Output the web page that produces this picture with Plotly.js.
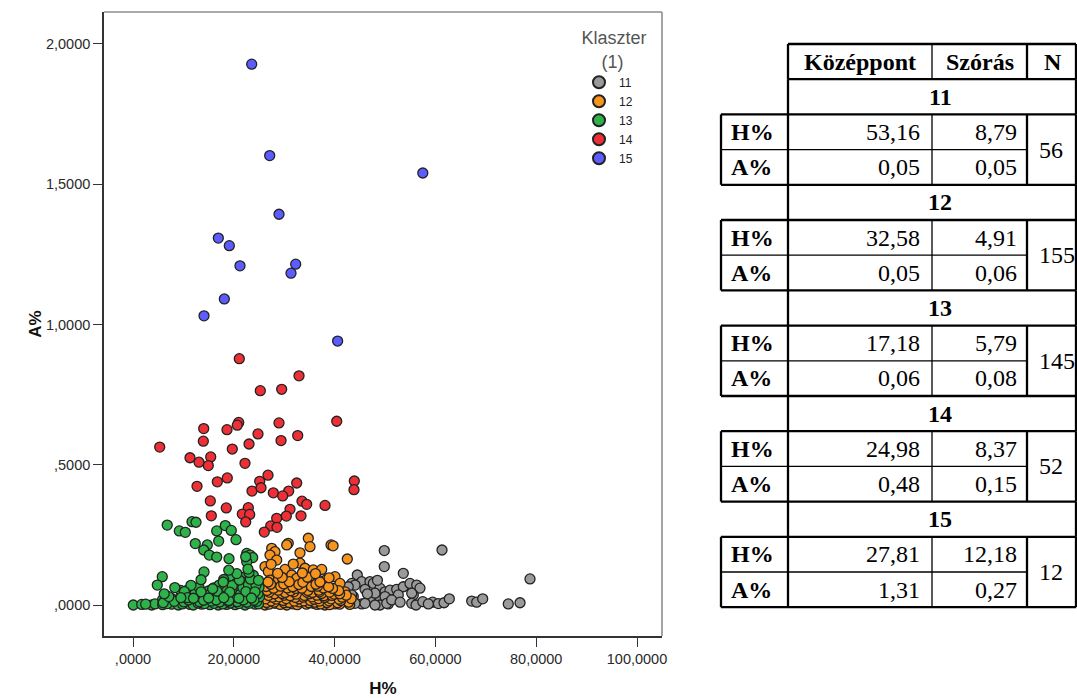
<!DOCTYPE html>
<html>
<head>
<meta charset="utf-8">
<script src="https://cdn.plot.ly/plotly-3.0.1.min.js"></script>
<style>
  html, body { margin: 0; padding: 0; background: #ffffff; }
  #chart { width: 1077px; height: 698px; }
</style>
</head>
<body>
<div id="chart"></div>
<script>
// ---- Observations per cluster: [H%, A%] ----
const pts11 = [
  [49.86,0.194],[61.31,0.196],[49.86,0.137],[53.63,0.113],[44.50,0.107],[78.77,0.093],
  [43.39,0.077],[45.38,0.083],[47.02,0.083],[47.68,0.077],[46.03,0.056],[49.01,0.060],
  [50.00,0.047],[50.99,0.053],[52.32,0.056],[53.63,0.065],[54.96,0.077],[56.29,0.071],
  [56.94,0.060],[55.62,0.036],[43.71,0.030],[47.02,0.018],[49.01,0.018],[50.99,0.018],
  [52.64,0.036],[43.06,0.006],[45.38,0.004],[49.01,0.000],[50.65,0.004],[55.30,0.006],
  [56.15,0.000],[59.46,0.010],[60.58,0.005],[61.71,0.008],[62.76,0.022],[67.20,0.014],
  [68.19,0.010],[69.38,0.022],[74.46,0.004],[76.79,0.008],[44.05,0.071],[42.72,0.065],
  [43.39,0.036],[48.02,0.042],[50.00,0.030],[44.05,0.006],[46.03,0.006],[48.02,0.000],
  [50.34,0.006],[51.33,0.018],[55.30,0.042],[57.50,0.012],[58.60,0.004],[46.50,0.040],
  [53.00,0.010],[48.50,0.088]
];

const pts12 = [
  [34.78,0.238],[35.12,0.208],[30.81,0.220],[30.50,0.214],[39.29,0.214],[39.70,0.211],
  [27.52,0.202],[28.17,0.190],[27.18,0.178],[33.13,0.186],[42.52,0.164],[28.51,0.160],
  [33.13,0.149],[34.13,0.131],[26.19,0.137],[26.85,0.119],[30.16,0.127],[35.77,0.125],
  [37.44,0.127],[31.49,0.107],[32.48,0.095],[40.08,0.101],[27.18,0.089],[28.83,0.089],
  [30.81,0.077],[36.77,0.089],[38.43,0.092],[34.13,0.071],[35.77,0.071],[38.10,0.071],
  [40.08,0.060],[41.07,0.077],[26.19,0.047],[28.51,0.056],[30.81,0.044],[33.13,0.053],
  [36.11,0.042],[38.43,0.051],[40.42,0.036],[42.06,0.047],[26.85,0.024],[29.50,0.020],
  [31.49,0.030],[34.78,0.024],[37.44,0.024],[39.74,0.018],[41.73,0.018],[26.19,0.000],
  [28.17,0.006],[30.50,0.000],[33.47,0.012],[35.77,0.006],[38.10,0.000],[40.08,0.004],
  [42.06,0.012],
  [27.0,0.003],[29.2,0.002],[31.8,0.004],[32.6,0.001],[34.4,0.003],[36.5,0.002],[37.2,0.004],
  [39.0,0.001],[41.0,0.003],[43.0,0.002],
  [26.5,0.009],[28.0,0.010],[30.0,0.008],[31.0,0.009],[33.0,0.011],[34.9,0.008],[36.0,0.010],
  [38.5,0.009],[40.6,0.008],[42.8,0.010],
  [27.4,0.015],[29.8,0.016],[32.0,0.014],[33.9,0.015],[35.2,0.016],[37.0,0.014],[38.9,0.015],
  [41.2,0.016],
  [26.3,0.022],[28.4,0.021],[30.4,0.023],[32.9,0.022],[35.9,0.021],[36.8,0.023],[39.3,0.022],
  [40.9,0.021],[43.3,0.023],
  [27.7,0.028],[29.0,0.029],[32.2,0.027],[33.8,0.028],[35.5,0.029],[38.0,0.027],[41.5,0.028],
  [26.9,0.034],[30.0,0.035],[31.2,0.033],[34.0,0.034],[36.5,0.035],[37.9,0.033],[39.5,0.034],
  [42.3,0.035],
  [28.1,0.040],[29.6,0.041],[32.4,0.039],[35.0,0.040],[37.4,0.041],[39.9,0.039],[41.0,0.040],
  [27.0,0.046],[30.2,0.045],[31.9,0.047],[34.5,0.046],[35.6,0.045],[37.0,0.047],[39.0,0.046],
  [26.6,0.052],[28.8,0.053],[31.3,0.051],[34.7,0.052],[36.9,0.053],[40.8,0.051],
  [27.9,0.060],[30.6,0.061],[32.3,0.059],[33.5,0.060],[37.8,0.061],[39.6,0.059],
  [26.4,0.066],[29.3,0.067],[31.7,0.065],[35.4,0.066],[36.6,0.067],[38.8,0.065],
  [27.3,0.074],[29.9,0.075],[32.9,0.073],[36.3,0.074],
  [26.8,0.082],[31.0,0.083],[33.7,0.081],[37.1,0.082],
  [29.6,0.098],[34.6,0.099],[38.9,0.097],
  [28.7,0.113],[33.6,0.114],[36.2,0.112],
  [27.4,0.145],[31.8,0.146]
];

const pts13 = [
  [6.79,0.285],[9.19,0.264],[10.38,0.259],[11.71,0.297],[12.50,0.295],[16.61,0.264],
  [18.31,0.283],[19.50,0.266],[17.00,0.228],[20.44,0.233],[12.36,0.219],[14.74,0.214],
  [14.03,0.196],[15.14,0.178],[16.61,0.171],[19.05,0.165],[22.56,0.184],[23.21,0.178],
  [23.75,0.169],[22.56,0.154],[22.36,0.172],[14.09,0.118],[5.81,0.101],[4.82,0.071],
  [19.44,0.103],[22.02,0.099],[23.87,0.106],
  [0.06,0.000],[1.73,0.002],[3.71,0.000],[4.37,0.004],[5.89,0.001],[7.68,0.003],
  [8.99,0.000],[11.31,0.002],[11.96,0.000],[13.63,0.003],[15.28,0.001],[16.92,0.000],
  [18.59,0.002],[20.24,0.001],[22.22,0.000],[24.21,0.003],
  [5.89,0.020],[7.68,0.023],[8.99,0.019],[10.65,0.022],[12.64,0.021],[14.63,0.024],
  [15.94,0.019],[17.59,0.022],[19.58,0.020],[21.57,0.023],[23.21,0.021],
  [9.46,0.052],[10.97,0.055],[14.96,0.050],[16.92,0.054],[18.91,0.053],[20.89,0.056],
  [22.88,0.051],[24.54,0.054],
  [20.57,0.078],[22.22,0.081],[24.21,0.076],
  [2.5,0.003],[6.8,0.005],[9.8,0.004],[12.9,0.007],[14.2,0.005],[16.1,0.006],[17.8,0.004],
  [19.3,0.007],[21.0,0.005],[23.0,0.006],[24.9,0.004],
  [6.0,0.008],[8.2,0.013],[10.1,0.011],[13.2,0.012],[15.6,0.014],[17.2,0.011],[18.9,0.013],
  [20.7,0.012],[22.6,0.010],[24.6,0.013],
  [7.1,0.030],[11.8,0.031],[13.9,0.029],[16.4,0.032],[18.2,0.030],[20.1,0.028],[22.0,0.031],
  [23.9,0.030],[25.1,0.029],
  [6.2,0.040],[12.3,0.041],[15.3,0.039],[17.7,0.042],[19.9,0.040],[21.3,0.038],[23.4,0.041],
  [24.8,0.040],
  [8.3,0.062],[13.1,0.063],[16.0,0.061],[18.4,0.064],[21.8,0.062],[23.6,0.060],[25.0,0.063],
  [11.5,0.070],[17.1,0.071],[19.7,0.069],[22.9,0.072],[24.4,0.070],
  [13.5,0.090],[18.0,0.091],[21.1,0.089],[23.3,0.092],[24.9,0.088],
  [20.6,0.112],[23.0,0.116],[19.0,0.124],[22.8,0.128],
  [11.0,0.018],[14.0,0.017],[16.5,0.018],[19.0,0.016],[21.9,0.018],[24.0,0.017],
  [10.2,0.048],[13.5,0.047],[16.7,0.049],[19.2,0.046],[22.4,0.048],[24.2,0.047],
  [10.8,0.026],[9.5,0.026],[12.0,0.024],[15.0,0.025],[18.0,0.026],[21.0,0.024],[23.5,0.025],
  [17.9,0.082],[15.8,0.058]
];

const pts14 = [
  [21.09,0.878],[25.26,0.764],[29.50,0.769],[32.94,0.817],[40.42,0.655],[20.97,0.651],
  [20.69,0.641],[14.03,0.629],[18.65,0.625],[28.97,0.649],[24.80,0.610],[32.68,0.604],
  [29.37,0.586],[13.95,0.584],[23.02,0.574],[5.30,0.563],[19.70,0.556],[11.31,0.525],
  [15.42,0.528],[13.10,0.509],[14.94,0.497],[22.22,0.505],[26.79,0.463],[18.71,0.453],
  [16.73,0.439],[25.14,0.441],[32.48,0.435],[12.70,0.423],[23.61,0.406],[25.40,0.418],
  [27.84,0.400],[30.89,0.406],[29.70,0.389],[43.91,0.442],[43.85,0.411],[15.34,0.371],
  [33.53,0.370],[34.46,0.359],[38.10,0.355],[18.51,0.346],[22.88,0.347],[31.15,0.341],
  [15.54,0.318],[21.69,0.324],[23.15,0.323],[28.51,0.309],[30.42,0.317],[33.33,0.318],
  [22.36,0.296],[27.32,0.282],[28.57,0.277],[26.05,0.260]
];

const pts15 = [
  [23.55,1.928],[27.12,1.602],[28.97,1.393],[16.93,1.308],[19.11,1.281],[21.23,1.209],
  [32.28,1.215],[31.35,1.183],[18.12,1.091],[14.09,1.031],[57.50,1.540],[40.60,0.941]
];

const clusterNames = ['11', '12', '13', '14', '15'];
const clusterPoints = [pts11, pts12, pts13, pts14, pts15];
const clusterColors = ['#9a9a9a', '#f7941e', '#2db34a', '#ee2f36', '#5c5cff'];

// ---- Axis ticks ----
const xTickVals = [0, 20, 40, 60, 80, 100];
const xTickText = [',0000', '20,0000', '40,0000', '60,0000', '80,0000', '100,0000'];
const yTickVals = [0, 0.5, 1, 1.5, 2];
const yTickText = [',0000', ',5000', '1,0000', '1,5000', '2,0000'];

// ---- Cluster summary table ----
const tableHeader = ['Középpont', 'Szórás', 'N'];
const rowLabels = ['H%', 'A%'];
const centerH = ['53,16', '32,58', '17,18', '24,98', '27,81'];
const centerA = ['0,05', '0,05', '0,06', '0,48', '1,31'];
const sdH = ['8,79', '4,91', '5,79', '8,37', '12,18'];
const sdA = ['0,05', '0,06', '0,08', '0,15', '0,27'];
const clusterN = ['56', '155', '145', '52', '12'];

// ---- Page geometry ----
const W = 1077, H = 698;
const M = { l: 104, r: 415, t: 12, b: 62 };
const plotW = W - M.l - M.r, plotH = H - M.t - M.b;
const px = x => (x - M.l) / plotW;          // page pixel -> paper x
const py = y => (H - M.b - y) / plotH;      // page pixel -> paper y

const sansFont = 'Liberation Sans, Arial, Helvetica, sans-serif';
const serifFont = 'Liberation Serif, Times New Roman, serif';

// ---- Scatter traces ----
const traces = clusterNames.map((name, i) => ({
  type: 'scatter',
  mode: 'markers',
  name: name,
  x: clusterPoints[i].map(p => p[0]),
  y: clusterPoints[i].map(p => p[1]),
  marker: { size: 10, color: clusterColors[i], line: { color: '#222222', width: 1.3 } },
  hoverinfo: 'x+y+name'
}));

// ---- Frame: light top/right edges ----
const shapes = [
  { type: 'line', xref: 'paper', yref: 'paper', x0: 0, x1: 1, y0: 1, y1: 1, line: { color: '#8c8c8c', width: 1.6 } },
  { type: 'line', xref: 'paper', yref: 'paper', x0: 1, x1: 1, y0: 0, y1: 1, line: { color: '#8c8c8c', width: 1.6 } }
];
const annotations = [];

// ---- Table drawing ----
const T = { c0: 721, c1: 788, c2: 932, c3: 1027, c4: 1076, top: 44, row: 35.2 };
const TFS = 24;
const thick = 2.3, thin = 1.3;
const rowTop = i => T.top + i * T.row;
function hLine(x0, x1, y, w) {
  shapes.push({ type: 'line', xref: 'paper', yref: 'paper', x0: px(x0), x1: px(x1), y0: py(y), y1: py(y), line: { color: '#000', width: w } });
}
function vLine(x, y0, y1, w) {
  shapes.push({ type: 'line', xref: 'paper', yref: 'paper', x0: px(x), x1: px(x), y0: py(y0), y1: py(y1), line: { color: '#000', width: w } });
}
function cellText(text, x, y, anchor) {
  annotations.push({ text: text, xref: 'paper', yref: 'paper', x: px(x), y: py(y), xanchor: anchor, yanchor: 'middle',
    showarrow: false, borderpad: 0, font: { family: serifFont, size: TFS, color: '#000' } });
}

// header row
hLine(T.c1, T.c4, rowTop(0), thick);
vLine(T.c1, rowTop(0), rowTop(1), thick);
vLine(T.c2, rowTop(0), rowTop(1), thin);
vLine(T.c3, rowTop(0), rowTop(1), thick);
vLine(T.c4, rowTop(0), rowTop(1), thick);
hLine(T.c1, T.c4, rowTop(1), thick);
const headerMid = rowTop(0) + T.row / 2;
cellText('<b>' + tableHeader[0] + '</b>', (T.c1 + T.c2) / 2, headerMid, 'center');
cellText('<b>' + tableHeader[1] + '</b>', (T.c2 + T.c3) / 2, headerMid, 'center');
cellText('<b>' + tableHeader[2] + '</b>', T.c3 + 16, headerMid, 'left');

clusterNames.forEach((name, k) => {
  const tRow = 1 + 3 * k, hRow = tRow + 1, aRow = tRow + 2;
  // cluster title row
  vLine(T.c1, rowTop(tRow), rowTop(hRow), thick);
  vLine(T.c4, rowTop(tRow), rowTop(hRow), thick);
  cellText('<b>' + name + '</b>', 940, rowTop(tRow) + T.row / 2, 'center');
  // H% / A% rows
  hLine(T.c0, T.c4, rowTop(hRow), thick);
  hLine(T.c0, T.c3, rowTop(aRow), thin);
  hLine(T.c0, T.c4, rowTop(aRow + 1), thick);
  vLine(T.c0, rowTop(hRow), rowTop(aRow + 1), thick);
  vLine(T.c1, rowTop(hRow), rowTop(aRow + 1), thick);
  vLine(T.c2, rowTop(hRow), rowTop(aRow + 1), thin);
  vLine(T.c3, rowTop(hRow), rowTop(aRow + 1), thick);
  vLine(T.c4, rowTop(hRow), rowTop(aRow + 1), thick);
  const hMid = rowTop(hRow) + T.row / 2, aMid = rowTop(aRow) + T.row / 2;
  cellText('<b>' + rowLabels[0] + '</b>', T.c0 + 9, hMid, 'left');
  cellText('<b>' + rowLabels[1] + '</b>', T.c0 + 9, aMid, 'left');
  cellText(centerH[k], T.c2 - 11, hMid, 'right');
  cellText(centerA[k], T.c2 - 11, aMid, 'right');
  cellText(sdH[k], T.c3 - 9, hMid, 'right');
  cellText(sdA[k], T.c3 - 9, aMid, 'right');
  cellText(clusterN[k], T.c3 + 11, rowTop(aRow), 'left');
});

const layout = {
  width: W,
  height: H,
  margin: M,
  paper_bgcolor: '#ffffff',
  plot_bgcolor: '#ffffff',
  font: { family: sansFont, color: '#2a2a2a' },
  showlegend: true,
  legend: {
    x: px(579), y: py(21), xanchor: 'left', yanchor: 'top',
    bgcolor: 'rgba(0,0,0,0)', borderwidth: 0,
    font: { family: sansFont, size: 12, color: '#222' },
    title: { text: 'Klaszter<br>\u00A0\u00A0\u00A0\u00A0(1)', side: 'top center', font: { family: sansFont, size: 18, color: '#555' } },
    itemwidth: 30,
    itemsizing: 'constant',
    tracegroupgap: 0
  },
  xaxis: {
    range: [-5.754, 104.96],
    tickvals: xTickVals, ticktext: xTickText,
    ticks: 'outside', ticklen: 9, tickwidth: 1.3, tickcolor: '#333',
    tickfont: { family: sansFont, size: 14.5, color: '#2a2a2a' },
    showline: true, linecolor: '#333', linewidth: 1.6,
    showgrid: false, zeroline: false,
    title: { text: '<b>H%</b>', font: { family: sansFont, size: 17, color: '#111' }, standoff: 20 },
    automargin: false
  },
  yaxis: {
    range: [-0.1105, 2.114],
    tickvals: yTickVals, ticktext: yTickText,
    ticks: 'outside', ticklen: 9, tickwidth: 1.3, tickcolor: '#333',
    tickfont: { family: sansFont, size: 14.5, color: '#2a2a2a' },
    showline: true, linecolor: '#333', linewidth: 1.6,
    showgrid: false, zeroline: false,
    title: { text: '<b>A%</b>', font: { family: sansFont, size: 17, color: '#111' }, standoff: 0 },
    automargin: false
  },
  shapes: shapes,
  annotations: annotations
};

Plotly.newPlot('chart', traces, layout, { displayModeBar: false, responsive: false });
</script>
</body>
</html>
